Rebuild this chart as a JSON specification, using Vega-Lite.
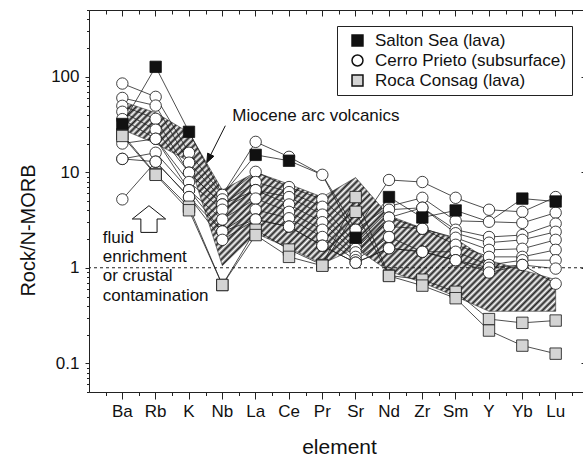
{
"$schema":"https://vega.github.io/schema/vega-lite/v6.json",
"width":500,"height":382,
"autosize":"none",
"padding":{"left":89,"top":10,"right":0,"bottom":66},
"background":"white",
"config":{"font":"Liberation Sans","view":{"stroke":null},
"axis":{"grid":false,"domainColor":"#222","tickColor":"#222","labelColor":"#111","titleColor":"#111","labelFontSize":17,"titleFontSize":20,"titleFontWeight":"normal","labelFont":"Liberation Sans","titleFont":"Liberation Sans"}},
"datasets":{
"groups":[{"s":"S1","g":"Salton Sea (lava)"},{"s":"C1","g":"Cerro Prieto (subsurface)"},{"s":"C2","g":"Cerro Prieto (subsurface)"},{"s":"C3","g":"Cerro Prieto (subsurface)"},{"s":"C4","g":"Cerro Prieto (subsurface)"},{"s":"C5","g":"Cerro Prieto (subsurface)"},{"s":"C6","g":"Cerro Prieto (subsurface)"},{"s":"C7","g":"Cerro Prieto (subsurface)"},{"s":"C8","g":"Cerro Prieto (subsurface)"},{"s":"C9","g":"Cerro Prieto (subsurface)"},{"s":"R1","g":"Roca Consag (lava)"},{"s":"R2","g":"Roca Consag (lava)"}],
"field":[{"e":"Ba","hi":55,"lo":28},{"e":"Rb","hi":42,"lo":20},{"e":"K","hi":26,"lo":13},{"e":"Nb","hi":6.5,"lo":1.05},{"e":"La","hi":10,"lo":2.3},{"e":"Ce","hi":7.5,"lo":1.6},{"e":"Pr","hi":5.5,"lo":1.1},{"e":"Sr","hi":8.8,"lo":1.6},{"e":"Nd","hi":3.5,"lo":0.92},{"e":"Zr","hi":2.6,"lo":0.7},{"e":"Sm","hi":2.0,"lo":0.5},{"e":"Y","hi":1.2,"lo":0.35},{"e":"Yb","hi":0.95,"lo":0.35},{"e":"Lu","hi":0.75,"lo":0.35}],
"samples":[
{"s":"S1","e":"Ba","v":32},{"s":"S1","e":"Rb","v":127},{"s":"S1","e":"K","v":26.5},{"s":"S1","e":"Nb","v":5.8},{"s":"S1","e":"La","v":15.2},{"s":"S1","e":"Ce","v":13.2},{"s":"S1","e":"Pr","v":9.4},{"s":"S1","e":"Sr","v":2.06},{"s":"S1","e":"Nd","v":5.5},{"s":"S1","e":"Zr","v":3.36},{"s":"S1","e":"Sm","v":3.98},{"s":"S1","e":"Y","v":3.03},{"s":"S1","e":"Yb","v":5.3},{"s":"S1","e":"Lu","v":4.94},
{"s":"C1","e":"Ba","v":84.9},{"s":"C1","e":"Rb","v":61.6},{"s":"C1","e":"K","v":16},{"s":"C1","e":"Nb","v":5.8},{"s":"C1","e":"La","v":20.8},{"s":"C1","e":"Ce","v":14.5},{"s":"C1","e":"Pr","v":9.4},{"s":"C1","e":"Sr","v":2.5},{"s":"C1","e":"Nd","v":8.3},{"s":"C1","e":"Zr","v":7.9},{"s":"C1","e":"Sm","v":5.4},{"s":"C1","e":"Y","v":4.05},{"s":"C1","e":"Yb","v":3.85},{"s":"C1","e":"Lu","v":5.5},
{"s":"C2","e":"Ba","v":60},{"s":"C2","e":"Rb","v":49.9},{"s":"C2","e":"K","v":12.6},{"s":"C2","e":"Nb","v":5.2},{"s":"C2","e":"La","v":10.1},{"s":"C2","e":"Ce","v":7.0},{"s":"C2","e":"Pr","v":5.2},{"s":"C2","e":"Sr","v":2.5},{"s":"C2","e":"Nd","v":4.4},{"s":"C2","e":"Zr","v":5.4},{"s":"C2","e":"Sm","v":3.1},{"s":"C2","e":"Y","v":3.03},{"s":"C2","e":"Yb","v":2.95},{"s":"C2","e":"Lu","v":3.77},
{"s":"C3","e":"Ba","v":49.6},{"s":"C3","e":"Rb","v":36.3},{"s":"C3","e":"K","v":9.9},{"s":"C3","e":"Nb","v":4.6},{"s":"C3","e":"La","v":7.9},{"s":"C3","e":"Ce","v":6.2},{"s":"C3","e":"Pr","v":4.35},{"s":"C3","e":"Sr","v":1.8},{"s":"C3","e":"Nd","v":4.05},{"s":"C3","e":"Zr","v":4.25},{"s":"C3","e":"Sm","v":2.5},{"s":"C3","e":"Y","v":2.1},{"s":"C3","e":"Yb","v":2.2},{"s":"C3","e":"Lu","v":2.9},
{"s":"C4","e":"Ba","v":43},{"s":"C4","e":"Rb","v":27.9},{"s":"C4","e":"K","v":9.9},{"s":"C4","e":"Nb","v":4.6},{"s":"C4","e":"La","v":6.5},{"s":"C4","e":"Ce","v":5.5},{"s":"C4","e":"Pr","v":3.6},{"s":"C4","e":"Sr","v":1.58},{"s":"C4","e":"Nd","v":3.35},{"s":"C4","e":"Zr","v":4.25},{"s":"C4","e":"Sm","v":2.3},{"s":"C4","e":"Y","v":1.83},{"s":"C4","e":"Yb","v":1.96},{"s":"C4","e":"Lu","v":2.38},
{"s":"C5","e":"Ba","v":36},{"s":"C5","e":"Rb","v":22.4},{"s":"C5","e":"K","v":7.9},{"s":"C5","e":"Nb","v":4.05},{"s":"C5","e":"La","v":6.5},{"s":"C5","e":"Ce","v":4.6},{"s":"C5","e":"Pr","v":3.0},{"s":"C5","e":"Sr","v":1.45},{"s":"C5","e":"Nd","v":3.35},{"s":"C5","e":"Zr","v":2.56},{"s":"C5","e":"Sm","v":2.06},{"s":"C5","e":"Y","v":1.54},{"s":"C5","e":"Yb","v":1.58},{"s":"C5","e":"Lu","v":1.96},
{"s":"C6","e":"Ba","v":20},{"s":"C6","e":"Rb","v":22.4},{"s":"C6","e":"K","v":6.5},{"s":"C6","e":"Nb","v":3.2},{"s":"C6","e":"La","v":5.3},{"s":"C6","e":"Ce","v":3.85},{"s":"C6","e":"Pr","v":2.5},{"s":"C6","e":"Sr","v":1.3},{"s":"C6","e":"Nd","v":2.7},{"s":"C6","e":"Zr","v":2.56},{"s":"C6","e":"Sm","v":1.74},{"s":"C6","e":"Y","v":1.3},{"s":"C6","e":"Yb","v":1.3},{"s":"C6","e":"Lu","v":1.54},
{"s":"C7","e":"Ba","v":13.8},{"s":"C7","e":"Rb","v":16},{"s":"C7","e":"K","v":6.5},{"s":"C7","e":"Nb","v":2.4},{"s":"C7","e":"La","v":4.05},{"s":"C7","e":"Ce","v":3.3},{"s":"C7","e":"Pr","v":2.1},{"s":"C7","e":"Sr","v":1.2},{"s":"C7","e":"Nd","v":2.1},{"s":"C7","e":"Zr","v":1.47},{"s":"C7","e":"Sm","v":1.47},{"s":"C7","e":"Y","v":1.07},{"s":"C7","e":"Yb","v":1.2},{"s":"C7","e":"Lu","v":1.2},
{"s":"C8","e":"Ba","v":13.8},{"s":"C8","e":"Rb","v":12.9},{"s":"C8","e":"K","v":5.5},{"s":"C8","e":"Nb","v":2.4},{"s":"C8","e":"La","v":3.2},{"s":"C8","e":"Ce","v":2.7},{"s":"C8","e":"Pr","v":1.7},{"s":"C8","e":"Sr","v":1.13},{"s":"C8","e":"Nd","v":1.6},{"s":"C8","e":"Zr","v":1.47},{"s":"C8","e":"Sm","v":1.2},{"s":"C8","e":"Y","v":1.0},{"s":"C8","e":"Yb","v":1.07},{"s":"C8","e":"Lu","v":0.98},
{"s":"C9","e":"Ba","v":5.2},{"s":"C9","e":"Rb","v":12.9},{"s":"C9","e":"K","v":5.5},{"s":"C9","e":"Nb","v":1.96},{"s":"C9","e":"La","v":3.2},{"s":"C9","e":"Ce","v":2.7},{"s":"C9","e":"Pr","v":1.7},{"s":"C9","e":"Sr","v":1.13},{"s":"C9","e":"Nd","v":1.6},{"s":"C9","e":"Zr","v":1.47},{"s":"C9","e":"Sm","v":1.2},{"s":"C9","e":"Y","v":0.89},{"s":"C9","e":"Yb","v":1.07},{"s":"C9","e":"Lu","v":0.68},
{"s":"R1","e":"Ba","v":25},{"s":"R1","e":"Rb","v":9.6},{"s":"R1","e":"K","v":4.35},{"s":"R1","e":"Nb","v":0.66},{"s":"R1","e":"La","v":2.5},{"s":"R1","e":"Ce","v":1.55},{"s":"R1","e":"Pr","v":1.07},{"s":"R1","e":"Sr","v":5.5},{"s":"R1","e":"Nd","v":0.83},{"s":"R1","e":"Zr","v":0.75},{"s":"R1","e":"Sm","v":0.56},{"s":"R1","e":"Y","v":0.29},{"s":"R1","e":"Yb","v":0.265},{"s":"R1","e":"Lu","v":0.28},
{"s":"R2","e":"Ba","v":24},{"s":"R2","e":"Rb","v":9.4},{"s":"R2","e":"K","v":4.0},{"s":"R2","e":"Nb","v":0.66},{"s":"R2","e":"La","v":2.2},{"s":"R2","e":"Ce","v":1.3},{"s":"R2","e":"Pr","v":1.05},{"s":"R2","e":"Sr","v":3.85},{"s":"R2","e":"Nd","v":0.82},{"s":"R2","e":"Zr","v":0.65},{"s":"R2","e":"Sm","v":0.48},{"s":"R2","e":"Y","v":0.22},{"s":"R2","e":"Yb","v":0.153},{"s":"R2","e":"Lu","v":0.126}
]},
"layer":[
{"data":{"name":"field"},
 "mark":{"type":"area","stroke":"#333","strokeWidth":0.6,
  "fill":{"gradient":"linear","x1":0,"y1":0,"x2":1.2,"y2":0.58,"stops":[
{"offset":0,"color":"#222"},{"offset":0.005,"color":"#fff"},{"offset":0.01,"color":"#222"},{"offset":0.015,"color":"#fff"},{"offset":0.02,"color":"#222"},{"offset":0.025,"color":"#fff"},{"offset":0.03,"color":"#222"},{"offset":0.035,"color":"#fff"},{"offset":0.04,"color":"#222"},{"offset":0.045,"color":"#fff"},
{"offset":0.05,"color":"#222"},{"offset":0.055,"color":"#fff"},{"offset":0.06,"color":"#222"},{"offset":0.065,"color":"#fff"},{"offset":0.07,"color":"#222"},{"offset":0.075,"color":"#fff"},{"offset":0.08,"color":"#222"},{"offset":0.085,"color":"#fff"},{"offset":0.09,"color":"#222"},{"offset":0.095,"color":"#fff"},
{"offset":0.1,"color":"#222"},{"offset":0.105,"color":"#fff"},{"offset":0.11,"color":"#222"},{"offset":0.115,"color":"#fff"},{"offset":0.12,"color":"#222"},{"offset":0.125,"color":"#fff"},{"offset":0.13,"color":"#222"},{"offset":0.135,"color":"#fff"},{"offset":0.14,"color":"#222"},{"offset":0.145,"color":"#fff"},
{"offset":0.15,"color":"#222"},{"offset":0.155,"color":"#fff"},{"offset":0.16,"color":"#222"},{"offset":0.165,"color":"#fff"},{"offset":0.17,"color":"#222"},{"offset":0.175,"color":"#fff"},{"offset":0.18,"color":"#222"},{"offset":0.185,"color":"#fff"},{"offset":0.19,"color":"#222"},{"offset":0.195,"color":"#fff"},
{"offset":0.2,"color":"#222"},{"offset":0.205,"color":"#fff"},{"offset":0.21,"color":"#222"},{"offset":0.215,"color":"#fff"},{"offset":0.22,"color":"#222"},{"offset":0.225,"color":"#fff"},{"offset":0.23,"color":"#222"},{"offset":0.235,"color":"#fff"},{"offset":0.24,"color":"#222"},{"offset":0.245,"color":"#fff"},
{"offset":0.25,"color":"#222"},{"offset":0.255,"color":"#fff"},{"offset":0.26,"color":"#222"},{"offset":0.265,"color":"#fff"},{"offset":0.27,"color":"#222"},{"offset":0.275,"color":"#fff"},{"offset":0.28,"color":"#222"},{"offset":0.285,"color":"#fff"},{"offset":0.29,"color":"#222"},{"offset":0.295,"color":"#fff"},
{"offset":0.3,"color":"#222"},{"offset":0.305,"color":"#fff"},{"offset":0.31,"color":"#222"},{"offset":0.315,"color":"#fff"},{"offset":0.32,"color":"#222"},{"offset":0.325,"color":"#fff"},{"offset":0.33,"color":"#222"},{"offset":0.335,"color":"#fff"},{"offset":0.34,"color":"#222"},{"offset":0.345,"color":"#fff"},
{"offset":0.35,"color":"#222"},{"offset":0.355,"color":"#fff"},{"offset":0.36,"color":"#222"},{"offset":0.365,"color":"#fff"},{"offset":0.37,"color":"#222"},{"offset":0.375,"color":"#fff"},{"offset":0.38,"color":"#222"},{"offset":0.385,"color":"#fff"},{"offset":0.39,"color":"#222"},{"offset":0.395,"color":"#fff"},
{"offset":0.4,"color":"#222"},{"offset":0.405,"color":"#fff"},{"offset":0.41,"color":"#222"},{"offset":0.415,"color":"#fff"},{"offset":0.42,"color":"#222"},{"offset":0.425,"color":"#fff"},{"offset":0.43,"color":"#222"},{"offset":0.435,"color":"#fff"},{"offset":0.44,"color":"#222"},{"offset":0.445,"color":"#fff"},
{"offset":0.45,"color":"#222"},{"offset":0.455,"color":"#fff"},{"offset":0.46,"color":"#222"},{"offset":0.465,"color":"#fff"},{"offset":0.47,"color":"#222"},{"offset":0.475,"color":"#fff"},{"offset":0.48,"color":"#222"},{"offset":0.485,"color":"#fff"},{"offset":0.49,"color":"#222"},{"offset":0.495,"color":"#fff"},
{"offset":0.5,"color":"#222"},{"offset":0.505,"color":"#fff"},{"offset":0.51,"color":"#222"},{"offset":0.515,"color":"#fff"},{"offset":0.52,"color":"#222"},{"offset":0.525,"color":"#fff"},{"offset":0.53,"color":"#222"},{"offset":0.535,"color":"#fff"},{"offset":0.54,"color":"#222"},{"offset":0.545,"color":"#fff"},
{"offset":0.55,"color":"#222"},{"offset":0.555,"color":"#fff"},{"offset":0.56,"color":"#222"},{"offset":0.565,"color":"#fff"},{"offset":0.57,"color":"#222"},{"offset":0.575,"color":"#fff"},{"offset":0.58,"color":"#222"},{"offset":0.585,"color":"#fff"},{"offset":0.59,"color":"#222"},{"offset":0.595,"color":"#fff"},
{"offset":0.6,"color":"#222"},{"offset":0.605,"color":"#fff"},{"offset":0.61,"color":"#222"},{"offset":0.615,"color":"#fff"},{"offset":0.62,"color":"#222"},{"offset":0.625,"color":"#fff"},{"offset":0.63,"color":"#222"},{"offset":0.635,"color":"#fff"},{"offset":0.64,"color":"#222"},{"offset":0.645,"color":"#fff"},
{"offset":0.65,"color":"#222"},{"offset":0.655,"color":"#fff"},{"offset":0.66,"color":"#222"},{"offset":0.665,"color":"#fff"},{"offset":0.67,"color":"#222"},{"offset":0.675,"color":"#fff"},{"offset":0.68,"color":"#222"},{"offset":0.685,"color":"#fff"},{"offset":0.69,"color":"#222"},{"offset":0.695,"color":"#fff"},
{"offset":0.7,"color":"#222"},{"offset":0.705,"color":"#fff"},{"offset":0.71,"color":"#222"},{"offset":0.715,"color":"#fff"},{"offset":0.72,"color":"#222"},{"offset":0.725,"color":"#fff"},{"offset":0.73,"color":"#222"},{"offset":0.735,"color":"#fff"},{"offset":0.74,"color":"#222"},{"offset":0.745,"color":"#fff"},
{"offset":0.75,"color":"#222"},{"offset":0.755,"color":"#fff"},{"offset":0.76,"color":"#222"},{"offset":0.765,"color":"#fff"},{"offset":0.77,"color":"#222"},{"offset":0.775,"color":"#fff"},{"offset":0.78,"color":"#222"},{"offset":0.785,"color":"#fff"},{"offset":0.79,"color":"#222"},{"offset":0.795,"color":"#fff"},
{"offset":0.8,"color":"#222"},{"offset":0.805,"color":"#fff"},{"offset":0.81,"color":"#222"},{"offset":0.815,"color":"#fff"},{"offset":0.82,"color":"#222"},{"offset":0.825,"color":"#fff"},{"offset":0.83,"color":"#222"},{"offset":0.835,"color":"#fff"},{"offset":0.84,"color":"#222"},{"offset":0.845,"color":"#fff"},
{"offset":0.85,"color":"#222"},{"offset":0.855,"color":"#fff"},{"offset":0.86,"color":"#222"},{"offset":0.865,"color":"#fff"},{"offset":0.87,"color":"#222"},{"offset":0.875,"color":"#fff"},{"offset":0.88,"color":"#222"},{"offset":0.885,"color":"#fff"},{"offset":0.89,"color":"#222"},{"offset":0.895,"color":"#fff"},
{"offset":0.9,"color":"#222"},{"offset":0.905,"color":"#fff"},{"offset":0.91,"color":"#222"},{"offset":0.915,"color":"#fff"},{"offset":0.92,"color":"#222"},{"offset":0.925,"color":"#fff"},{"offset":0.93,"color":"#222"},{"offset":0.935,"color":"#fff"},{"offset":0.94,"color":"#222"},{"offset":0.945,"color":"#fff"},
{"offset":0.95,"color":"#222"},{"offset":0.955,"color":"#fff"},{"offset":0.96,"color":"#222"},{"offset":0.965,"color":"#fff"},{"offset":0.97,"color":"#222"},{"offset":0.975,"color":"#fff"},{"offset":0.98,"color":"#222"},{"offset":0.985,"color":"#fff"},{"offset":0.99,"color":"#222"},{"offset":0.995,"color":"#fff"},
{"offset":1,"color":"#222"}]}},
 "encoding":{
  "x":{"field":"e","type":"nominal","scale":{"type":"band","domain":["Ba","Rb","K","Nb","La","Ce","Pr","Sr","Nd","Zr","Sm","Y","Yb","Lu"],"paddingInner":0,"paddingOuter":0.5},"axis":{"orient":"bottom","title":"element","titleFontSize":21,"labelAngle":0,"tickSize":7,"labelPadding":4,"titlePadding":17,"bandPosition":0.5}},
  "y":{"field":"hi","type":"quantitative","scale":{"type":"log","domain":[0.05,500],"nice":false},"axis":{"orient":"left","title":"Rock/N-MORB","values":[0.1,1,10,100],"format":"~g","tickSize":4,"labelPadding":6,"titlePadding":12,"titleY":220}},
  "y2":{"field":"lo"},
  "order":{"value":null}}},
{"data":{"values":[{"v":1}]},
 "mark":{"type":"rule","strokeDash":[3,3],"color":"#222","strokeWidth":1},
 "encoding":{"y":{"field":"v","type":"quantitative","scale":{"type":"log","domain":[0.05,500],"nice":false},"axis":{"orient":"left","values":[0.05,0.06,0.07,0.08,0.09,0.2,0.3,0.4,0.5,0.6,0.7,0.8,0.9,2,3,4,5,6,7,8,9,20,30,40,50,60,70,80,90,200,300,400,500],"labels":false,"tickSize":2.5,"title":null,"domain":false}}}},
{"data":{"name":"samples"},
 "mark":{"type":"line","color":"#222","strokeWidth":0.8},
 "encoding":{
  "x":{"field":"e","type":"nominal","scale":{"type":"band","domain":["Ba","Rb","K","Nb","La","Ce","Pr","Sr","Nd","Zr","Sm","Y","Yb","Lu"],"paddingInner":0,"paddingOuter":0.5},"axis":{"orient":"bottom","tickBand":"extent","labels":false,"tickSize":3.5,"title":null}},
  "y":{"field":"v","type":"quantitative","scale":{"type":"log","domain":[0.05,500],"nice":false},"axis":{"orient":"right","values":[0.1,1,10,100],"labels":false,"tickSize":-8,"title":null}},
  "detail":{"field":"s"},
  "order":{"value":null}}},
{"data":{"name":"samples"},
 "transform":[{"lookup":"s","from":{"data":{"name":"groups"},"key":"s","fields":["g"]}},{"filter":"datum.g != 'Salton Sea (lava)'"}],
 "mark":{"type":"point","filled":true,"stroke":"#111","strokeWidth":0.8,"opacity":1,"size":130},
 "encoding":{
  "x":{"field":"e","type":"nominal","scale":{"type":"band","domain":["Ba","Rb","K","Nb","La","Ce","Pr","Sr","Nd","Zr","Sm","Y","Yb","Lu"],"paddingInner":0,"paddingOuter":0.5},"axis":{"orient":"top","labels":false,"tickSize":-6,"title":null}},
  "y":{"field":"v","type":"quantitative","scale":{"type":"log","domain":[0.05,500],"nice":false},"axis":null},
  "fill":{"field":"g","type":"nominal","scale":{"domain":["Salton Sea (lava)","Cerro Prieto (subsurface)","Roca Consag (lava)"],"range":["#111111","#ffffff","#d4d4d4"]},"legend":{"title":null,"orient":"none","legendX":248,"legendY":16,"strokeColor":"#222","fillColor":"#fff","padding":6,"symbolOffset":6,"labelFontSize":17,"labelOffset":9,"labelLimit":400,"rowPadding":2,"symbolSize":120,"labelColor":"#111","labelFont":"Liberation Sans","encode":{"symbols":{"update":{"stroke":{"value":"#111"},"strokeWidth":{"value":0.8}}}}}},
  "shape":{"field":"g","type":"nominal","scale":{"domain":["Salton Sea (lava)","Cerro Prieto (subsurface)","Roca Consag (lava)"],"range":["square","circle","square"]},"legend":{"title":null,"orient":"none","legendX":248,"legendY":16,"strokeColor":"#222","fillColor":"#fff","padding":6,"symbolOffset":6,"labelFontSize":17,"labelOffset":9,"labelLimit":400,"rowPadding":2,"symbolSize":120,"labelColor":"#111","labelFont":"Liberation Sans","encode":{"symbols":{"update":{"stroke":{"value":"#111"},"strokeWidth":{"value":0.8}}}}}}}},
{"data":{"name":"samples"},
 "transform":[{"lookup":"s","from":{"data":{"name":"groups"},"key":"s","fields":["g"]}},{"filter":"datum.g == 'Salton Sea (lava)' && datum.e != 'Nb' && datum.e != 'Pr' && datum.e != 'Y'"}],
 "mark":{"type":"point","filled":true,"stroke":"#111","strokeWidth":0.8,"opacity":1,"size":130},
 "encoding":{
  "x":{"field":"e","type":"nominal","scale":{"type":"band","domain":["Ba","Rb","K","Nb","La","Ce","Pr","Sr","Nd","Zr","Sm","Y","Yb","Lu"],"paddingInner":0,"paddingOuter":0.5},"axis":{"orient":"top","tickBand":"extent","labels":false,"tickSize":-4,"title":null}},
  "y":{"field":"v","type":"quantitative","scale":{"type":"log","domain":[0.05,500],"nice":false},"axis":null},
  "fill":{"field":"g","type":"nominal","scale":{"domain":["Salton Sea (lava)","Cerro Prieto (subsurface)","Roca Consag (lava)"],"range":["#111111","#ffffff","#d4d4d4"]},"legend":{"title":null,"orient":"none","legendX":248,"legendY":16,"strokeColor":"#222","fillColor":"#fff","padding":6,"symbolOffset":6,"labelFontSize":17,"labelOffset":9,"labelLimit":400,"rowPadding":2,"symbolSize":120,"labelColor":"#111","labelFont":"Liberation Sans","encode":{"symbols":{"update":{"stroke":{"value":"#111"},"strokeWidth":{"value":0.8}}}}}},
  "shape":{"field":"g","type":"nominal","scale":{"domain":["Salton Sea (lava)","Cerro Prieto (subsurface)","Roca Consag (lava)"],"range":["square","circle","square"]},"legend":{"title":null,"orient":"none","legendX":248,"legendY":16,"strokeColor":"#222","fillColor":"#fff","padding":6,"symbolOffset":6,"labelFontSize":17,"labelOffset":9,"labelLimit":400,"rowPadding":2,"symbolSize":120,"labelColor":"#111","labelFont":"Liberation Sans","encode":{"symbols":{"update":{"stroke":{"value":"#111"},"strokeWidth":{"value":0.8}}}}}}}},
{"data":{"values":[{}]},
 "mark":{"type":"text","text":"Miocene arc volcanics","align":"left","baseline":"middle","dx":10,"fontSize":17,"color":"#111","font":"Liberation Sans"},
 "encoding":{"x":{"datum":"Nb","type":"nominal","axis":null},"y":{"datum":38.7,"type":"quantitative","axis":null}}},
{"data":{"values":[{}]},
 "mark":{"type":"point","shape":"M3,0L-11.56,28.95M-15.6,37L-8.43,30.52L-14.69,27.38Z","size":4,"filled":true,"fill":"#111","stroke":"#111","strokeWidth":1,"opacity":1},
 "encoding":{"x":{"datum":"Nb","type":"nominal","axis":null},"y":{"datum":30.7,"type":"quantitative","axis":null}}},
{"data":{"values":[{}]},
 "mark":{"type":"point","shape":"M-6.7,-13.3L10,0L1.4,0L1.4,13.4L-14.8,13.4L-14.8,0L-23.4,0Z","size":4,"filled":true,"fill":"#fff","stroke":"#111","strokeWidth":1,"opacity":1},
 "encoding":{"x":{"datum":"Rb","type":"nominal","axis":null},"y":{"datum":3.24,"type":"quantitative","axis":null}}},
{"data":{"values":[{}]},
 "mark":{"type":"text","text":["fluid","enrichment","or crustal","contamination"],"align":"left","baseline":"middle","dx":-19.6,"lineHeight":19.3,"fontSize":17,"color":"#111","font":"Liberation Sans"},
 "encoding":{"x":{"datum":"Ba","type":"nominal","axis":null},"y":{"datum":2.06,"type":"quantitative","axis":null}}}
],
"resolve":{"axis":{"x":"independent","y":"independent"}}
}
